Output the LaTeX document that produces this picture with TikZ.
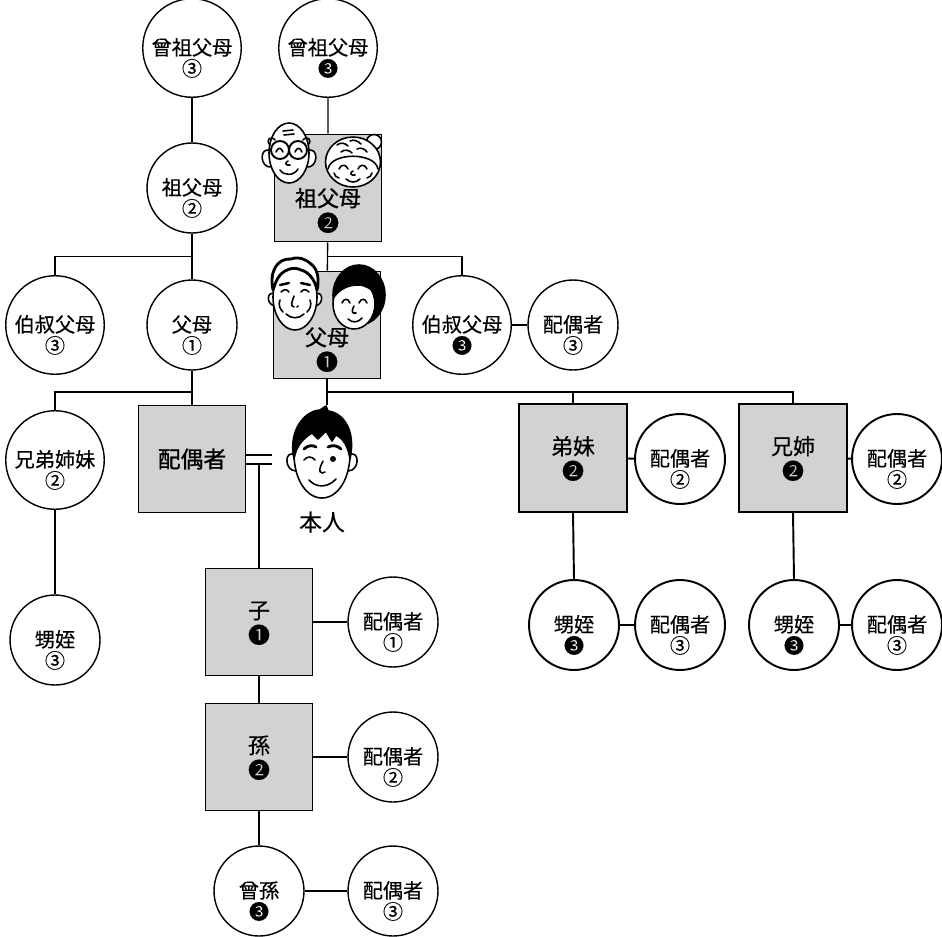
\documentclass[tikz,border=0pt]{standalone}
\usepackage{fontspec}
\usepackage{tikz}
\usetikzlibrary{calc}
\setmainfont[FakeBold=0.3]{Noto Sans CJK JP}
\newfontfamily\heavyfont[FakeBold=1.0]{Noto Sans CJK JP}

\begin{document}
\begin{tikzpicture}[x=0.02cm, y=-0.02cm,
    kin/.style={circle, draw, fill=white, line width=0.8pt, minimum size=1.8cm, inner sep=0pt,
      align=center, font=\fontsize{11.5}{12}\selectfont, text height=32pt, text depth=-17.8pt},
    heir/.style={rectangle, draw, fill=gray!35, line width=0.8pt, minimum size=2.15cm, inner sep=0pt,
      align=center, font=\fontsize{12.5}{14}\selectfont, text height=24pt, text depth=-12.5pt},
    caption/.style={align=center, inner sep=0pt, font=\fontsize{12.5}{14}\heavyfont, text height=24pt, text depth=-12.5pt},
    wire/.style={line width=0.8pt},
    face/.style={line width=0.9pt, line join=round, line cap=round}]
    \useasboundingbox (0,0) rectangle (942,936);

    % Ancestors:
    \node[kin] (ggpL) at (192,48) {曾祖父母\\③};
    \node[kin] (ggpR) at (328,48) {曾祖父母\\❸};
    \node[kin] (gpL) at (192,188) {祖父母\\②};
    \node[heir] (gpR) at (328,188) {};
    \node[kin] (uncL) at (55,325) {伯叔父母\\③};
    \node[kin] (parL) at (192,325) {父母\\①};
    \node[heir] (parR) at (327,325) {};
    \node[kin] (uncR) at (462,325) {伯叔父母\\❸};
    \node[kin] (uncRsp) at (573,325) {配偶者\\③};

    % Own generation:
    \node[kin] (sibL) at (55,460) {兄弟姉妹\\②};
    \node[heir, font=\fontsize{13}{14}\heavyfont, text height=12pt, text depth=2.2pt] (spouse) at (192,459) {配偶者};
    \node[kin] (nepL) at (55,640) {甥姪\\③};
    \node[heir, line width=1.1pt] (yngSib) at (573,458) {弟妹\\❷};
    \node[kin, line width=1.1pt] (yngSp) at (680,459) {配偶者\\②};
    \node[heir, line width=1.1pt] (eldSib) at (793,458) {兄姉\\❷};
    \node[kin, line width=1.1pt] (eldSp) at (897,459) {配偶者\\②};
    \node[kin, line width=1.1pt] (nep1) at (574,625) {甥姪\\❸};
    \node[kin, line width=1.1pt] (nep1Sp) at (680,625) {配偶者\\③};
    \node[kin, line width=1.1pt] (nep2) at (794,625) {甥姪\\❸};
    \node[kin, line width=1.1pt] (nep2Sp) at (897,625) {配偶者\\③};

    % Descendants:
    \node[heir] (child) at (259,622) {子\\❶};
    \node[kin] (childSp) at (393,622) {配偶者\\①};
    \node[heir] (grand) at (259,757) {孫\\❷};
    \node[kin] (grandSp) at (393,757) {配偶者\\②};
    \node[kin] (ggc) at (259,891) {曾孫\\❸};
    \node[kin] (ggcSp) at (393,891) {配偶者\\③};

    % Wires:
    \coordinate (gpLfork) at ($(gpL.south)!.5!(parL.north)$);
    \coordinate (gpRfork) at ($(gpR.south)!.5!(parR.north)$);
    \coordinate (parLfork) at (192,392);
    \coordinate (parRfork) at (327,392);
    \coordinate (selftop) at (327,405);
    \draw[wire] (ggpL) -- (gpL) -- (parL) -- (spouse);
    \draw[wire] (uncL.north) |- (gpLfork);
    \draw[wire] (ggpR) -- (gpR) -- (parR);
    \draw[wire] (uncR.north) |- (gpRfork);
    \draw[wire] (uncR) -- (uncRsp);
    \draw[wire] (sibL.north) |- (parLfork);
    \draw[wire] (sibL) -- (nepL);
    \draw[wire] (parR.south) -- (selftop);
    \draw[wire] (parRfork) -| (eldSib.north);
    \draw[wire] (yngSib.north) -- (yngSib.north |- parRfork);
    \draw[line width=1.1pt] (yngSib) -- (yngSp) (eldSib) -- (eldSp);
    \draw[line width=1.1pt] (yngSib.south) -- (nep1.north) (eldSib.south) -- (nep2.north);
    \draw[line width=1.1pt] (nep1) -- (nep1Sp) (nep2) -- (nep2Sp);
    \draw[wire] ([yshift=0.08cm]spouse.east) -- ++(26,0) coordinate (wedA);
    \draw[wire] ([yshift=-0.1cm]spouse.east) -- ++(26,0) coordinate (wedB);
    \draw[wire] (child.north) -- (child.north |- wedB);
    \draw[wire] (child) -- (grand) -- (ggc);
    \draw[wire] (child) -- (childSp) (grand) -- (grandSp) (ggc) -- (ggcSp);

    % Grandfather
    \begin{scope}[shift={(289,153)}, face]
      \draw[fill=white] (-18,-2) .. controls (-30,-8) and (-30,16) .. (-17,14);
      \draw[fill=white] (18,-2) .. controls (30,-8) and (30,16) .. (17,14);
      \draw[fill=white] (0,0) ellipse [x radius=0.4cm, y radius=0.6cm];
      \draw (-6,-22) -- (4,-23) (-5,-18) -- (5,-19);
      \draw (-19,-8) .. controls (-24,-13) and (-18,-18) .. (-14,-13);
      \draw (19,-8) .. controls (24,-13) and (18,-18) .. (14,-13);
      \draw[line width=1.1pt] (-9,-3) circle [radius=0.18cm] (9,-3) circle [radius=0.18cm];
      \draw (-13,-1) .. controls (-11,-6) and (-8,-6) .. (-6,-1);
      \draw (6,-1) .. controls (8,-6) and (11,-6) .. (13,-1);
      \draw (-1,8) .. controls (-5,10) and (-3,13) .. (1,12);
      \draw (-9,17) .. controls (-5,23) and (5,23) .. (9,16);
    \end{scope}
    % Grandmother
    \begin{scope}[shift={(353,162)}, face]
      \draw[fill=white] (21,-20) circle [radius=0.15cm];
      \draw[fill=white] (0,0) ellipse [x radius=0.55cm, y radius=0.5cm];
      \draw (-25,7) .. controls (-22,-10) and (22,-10) .. (25,7);
      \draw (-16,-17) .. controls (-12,-20) and (-8,-19) .. (-5,-16);
      \draw (-3,-21) .. controls (1,-23) and (5,-21) .. (8,-18);
      \draw (-12,-10) .. controls (-8,-13) and (-4,-12) .. (-1,-9);
      \draw (4,-13) .. controls (8,-15) and (12,-13) .. (14,-10);
      \draw (-14,7) .. controls (-12,2) and (-7,2) .. (-5,7);
      \draw (5,7) .. controls (7,2) and (12,2) .. (14,7);
      \draw (0,9) .. controls (-4,11) and (-2,14) .. (2,13);
      \draw (-7,17) .. controls (-3,21) and (3,21) .. (7,17);
      \draw (-19,11) .. controls (-18,14) and (-17,15) .. (-14,16);
      \draw (19,11) .. controls (18,14) and (17,15) .. (14,16);
    \end{scope}
    \node[caption] (gpRname) at (328,210) {祖父母\\❷};

    % Father
    \begin{scope}[shift={(295,294)}, face]
      \draw[fill=white] (-20,0) .. controls (-29,-4) and (-29,12) .. (-19,12);
      \draw[fill=white] (20,0) .. controls (29,-4) and (29,12) .. (19,12);
      \draw[fill=white] (0,3) ellipse [x radius=0.44cm, y radius=0.66cm];
      \draw[fill=white, line width=1.6pt] (-22,-4) .. controls (-26,-22) and (-18,-36) .. (-4,-35)
        .. controls (4,-38) and (12,-34) .. (16,-30) .. controls (24,-24) and (24,-12) .. (22,-4)
        .. controls (20,-14) and (14,-22) .. (6,-24) .. controls (-2,-28) and (-10,-24) .. (-14,-20)
        .. controls (-18,-16) and (-20,-10) .. cycle;
      \draw[line width=1.4pt] (-15,-9) -- (-6,-11) (6,-11) -- (15,-9);
      \draw (-14,-2) .. controls (-11,-5) and (-8,-5) .. (-6,-2);
      \draw (6,-2) .. controls (8,-5) and (11,-5) .. (14,-2);
      \draw (-1,2) .. controls (-3,8) and (-5,12) .. (-1,13) (2,13) -- (3,12);
      \draw (-15,6) .. controls (-17,11) and (-15,15) .. (-12,18);
      \draw (15,6) .. controls (17,11) and (15,15) .. (12,18);
      \draw (-9,20) .. controls (-4,25) and (4,25) .. (9,20);
    \end{scope}
    % Mother
    \begin{scope}[shift={(356,299)}, face]
      \draw[fill=black] (3,-4) ellipse [x radius=0.52cm, y radius=0.6cm];
      \draw[fill=white] (-2,5) ellipse [x radius=0.42cm, y radius=0.5cm];
      \draw[fill=black] (-22,-2) .. controls (-20,-18) and (-6,-22) .. (6,-20)
        .. controls (14,-18) and (20,-12) .. (22,-2) .. controls (16,-10) and (10,-14) .. (2,-14)
        .. controls (-8,-14) and (-16,-10) .. cycle;
      \draw (-14,4) .. controls (-12,-1) and (-8,-1) .. (-6,4);
      \draw (3,4) .. controls (5,-1) and (9,-1) .. (11,4);
      \draw (-2,7) .. controls (-5,12) and (-4,15) .. (0,14);
      \draw (-8,20) .. controls (-4,24) and (2,24) .. (6,19);
    \end{scope}
    \node[caption] (parRname) at (327,349) {父母\\❶};

    % Self
    \begin{scope}[shift={(322,455)}, face]
      \draw[fill=white] (-27,0) .. controls (-38,-6) and (-38,16) .. (-26,16);
      \draw[fill=white] (27,0) .. controls (38,-6) and (38,16) .. (26,16);
      \draw[fill=white] (-28,-10) .. controls (-30,25) and (-15,43) .. (0,43)
        .. controls (15,43) and (30,25) .. (28,-10) .. controls (28,-40) and (-28,-40) .. cycle;
      \draw[fill=black] (-28,4) .. controls (-34,-24) and (-18,-44) .. (-2,-45)
        -- (4,-49) -- (6,-44) .. controls (22,-42) and (34,-24) .. (28,4)
        .. controls (26,-8) and (22,-16) .. (14,-20) -- (10,-14) -- (4,-24) -- (-4,-16)
        -- (-10,-22) .. controls (-20,-16) and (-26,-8) .. cycle;
      \draw[line width=1.6pt] (-18,-6) .. controls (-14,-10) and (-9,-10) .. (-6,-8);
      \draw[line width=1.6pt] (6,-8) .. controls (10,-10) and (15,-10) .. (19,-6);
      \draw (-18,5) .. controls (-15,1) and (-10,1) .. (-7,5);
      \fill (11,4) circle [radius=0.06cm];
      \draw (1,6) .. controls (-2,12) and (-4,17) .. (0,18) -- (3,17);
      \draw (-13,25) .. controls (-6,33) and (6,33) .. (14,24);
    \end{scope}
    \node[font=\fontsize{13}{14}\selectfont] (selfname) at (322,522) {本人};
\end{tikzpicture}
\end{document}
